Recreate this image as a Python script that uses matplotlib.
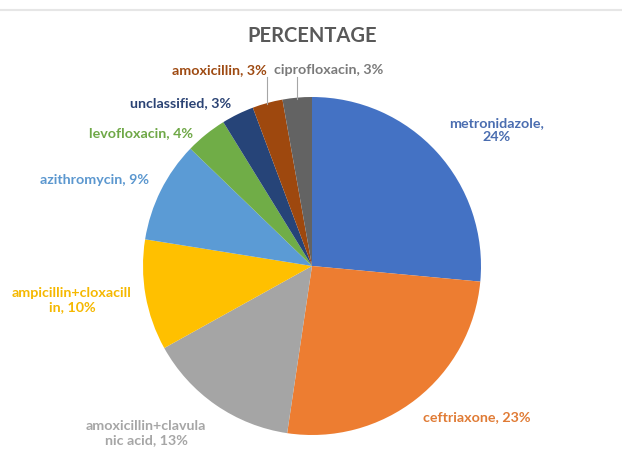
import matplotlib.pyplot as plt
import numpy as np

drugs = ['metronidazole', 'ceftriaxone', 'amoxicillin+clavulanic acid',
         'ampicillin+cloxacillin', 'azithromycin', 'levofloxacin',
         'unclassified', 'amoxicillin', 'ciprofloxacin']
# printed percentages
percent = [24, 23, 13, 10, 9, 4, 3, 3, 3]
# share of the circle each slice takes in the picture (%)
slice_share = [26.5, 25.9, 14.6, 10.6, 9.7, 4.0, 3.1, 2.9, 2.8]

# label text as it wraps in the original
label_text = ['metronidazole,\n24%', 'ceftriaxone, 23%',
              'amoxicillin+clavula\nnic acid, 13%', 'ampicillin+cloxacill\nin, 10%',
              'azithromycin, 9%', 'levofloxacin, 4%', 'unclassified, 3%',
              'amoxicillin, 3%', 'ciprofloxacin, 3%']

slice_colors = ['#4472C4', '#ED7D31', '#A5A5A5', '#FFC000', '#5B9BD5',
                '#70AD47', '#264478', '#9E480E', '#636363']
text_colors = ['#4a6db0', '#e07b35', '#a6a6a6', '#f5b800', '#5b97cf',
               '#6fa847', '#2b4374', '#9e4a12', '#7a7a7a']

W, H = 622, 476
fig = plt.figure(figsize=(W / 100, H / 100), dpi=100)
ax = fig.add_axes([0, 0, 1, 1])

cx, cy, r = 312, H - 266, 169
wedges, _ = ax.pie(slice_share, colors=slice_colors, startangle=90, counterclock=False,
                   center=(cx, cy), radius=r, frame=True,
                   wedgeprops=dict(linewidth=0))
ax.set_xlim(0, W)
ax.set_ylim(0, H)
ax.set_aspect('equal')
ax.axis('off')

# label centres in pixel coords (x, y from top)
label_pos = [(497, 130), (477, 417), (146, 433), (72, 300), (94, 180),
             (141, 133), (181, 103), (219, 70), (329, 70)]

for txt, col, (px, py) in zip(label_text, text_colors, label_pos):
    ax.text(px, H - py, txt, ha='center', va='center', color=col,
            fontsize=10.3, fontweight='bold', family='Lato', linespacing=1.2)

# leader lines for the two small slices at the top
for i in [7, 8]:
    w = wedges[i]
    mid = np.deg2rad((w.theta1 + w.theta2) / 2)
    ex, ey = cx + r * np.cos(mid), cy + r * np.sin(mid)
    ax.plot([ex, ex], [H - 77, ey - 1], color='#a6a6a6', linewidth=0.8)

ax.text(312, H - 36, 'PERCENTAGE', ha='center', va='center', color='#595959',
        fontsize=14.5, fontweight='bold', family='Lato')

# thin rule across the top
ax.plot([0, W], [H - 10, H - 10], color='#e6e6e6', linewidth=1.5)

fig.savefig('out.png', dpi=100)
